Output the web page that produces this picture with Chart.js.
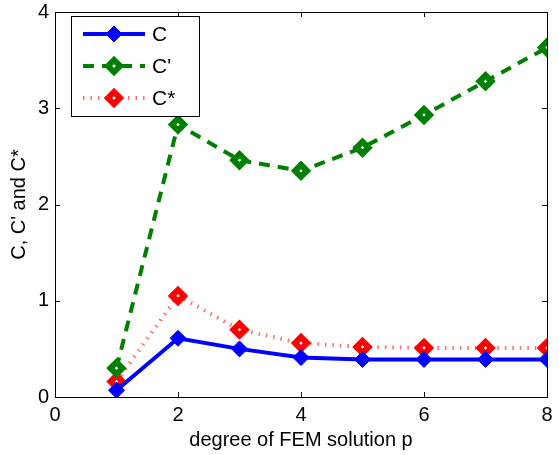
<!DOCTYPE html>
<html>
<head>
<meta charset="utf-8">
<script src="https://cdn.jsdelivr.net/npm/chart.js@4/dist/chart.umd.min.js"></script>
<style>
  html, body { margin: 0; padding: 0; background: #fff; }
  #wrap { width: 559px; height: 455px; }
</style>
</head>
<body>
<div id="wrap"><canvas id="myChart" width="559" height="455"></canvas></div>
<script>
// polynomial degree p and the three constants
var degrees = [1, 2, 3, 4, 5, 6, 7, 8];
var cVals     = [0.07, 0.61, 0.50, 0.41, 0.39, 0.39, 0.39, 0.39];
var cPrime    = [0.30, 2.83, 2.46, 2.35, 2.59, 2.93, 3.28, 3.63];
var cStar     = [0.16, 1.05, 0.70, 0.56, 0.52, 0.51, 0.51, 0.51];
var seriesNames = ['C', "C'", 'C*'];
var xTicks = [0, 2, 4, 6, 8];
var yTicks = [0, 1, 2, 3, 4];

var FONT = 'Liberation Sans, Arial, sans-serif';

function pts(vals) {
  return degrees.map(function (d, i) { return { x: d, y: vals[i] }; });
}

function marker(ctx, ds, x, y) {
  ctx.save();
  ctx.fillStyle = ds.pointBackgroundColor;
  ctx.strokeStyle = ds.pointBorderColor;
  ctx.lineWidth = ds.pointBorderWidth;
  Chart.helpers.drawPoint(ctx, {
    pointStyle: 'rectRot',
    radius: ds.pointRadius,
    borderWidth: ds.pointBorderWidth
  }, x, y);
  ctx.restore();
}

// box around the axes, inward ticks, and a matlab-style legend
var axesBox = {
  id: 'axesBox',
  afterDatasetsDraw: function (chart) {
    var ctx = chart.ctx, a = chart.chartArea;
    var sx = chart.scales.x, sy = chart.scales.y;
    ctx.save();
    ctx.strokeStyle = '#000';
    ctx.lineWidth = 1;
    ctx.beginPath();
    xTicks.forEach(function (v) {
      var px = Math.round(sx.getPixelForValue(v)) + 0.5;
      ctx.moveTo(px, a.bottom); ctx.lineTo(px, a.bottom - 5);
      ctx.moveTo(px, a.top); ctx.lineTo(px, a.top + 5);
    });
    yTicks.forEach(function (v) {
      var py = Math.round(sy.getPixelForValue(v)) + 0.5;
      ctx.moveTo(a.left, py); ctx.lineTo(a.left + 5, py);
      ctx.moveTo(a.right, py); ctx.lineTo(a.right - 5, py);
    });
    ctx.stroke();
    ctx.strokeRect(Math.round(a.left) + 0.5, Math.round(a.top) + 0.5,
      Math.round(a.right - a.left), Math.round(a.bottom - a.top));

    // legend
    var lx = 71, ly = 16, lw = 128, lh = 100;
    ctx.fillStyle = '#fff';
    ctx.fillRect(lx, ly, lw, lh);
    ctx.strokeRect(lx + 0.5, ly + 0.5, lw, lh);
    var rows = [34, 66, 98];
    chart.data.datasets.forEach(function (ds, i) {
      var y = rows[i];
      ctx.save();
      ctx.strokeStyle = ds.borderColor;
      ctx.lineWidth = ds.borderWidth;
      ctx.setLineDash(ds.borderDash || []);
      ctx.beginPath();
      ctx.moveTo(83, y); ctx.lineTo(145, y);
      ctx.stroke();
      ctx.restore();
      marker(ctx, ds, 114, y);
      ctx.fillStyle = '#000';
      ctx.font = '21px ' + FONT;
      ctx.textBaseline = 'middle';
      ctx.textAlign = 'left';
      ctx.fillText(ds.label, 152, y + 1);
    });
    ctx.restore();
  }
};

var ctx = document.getElementById('myChart').getContext('2d');

var chart = new Chart(ctx, {
  type: 'line',
  data: {
    datasets: [{
      label: seriesNames[0],
      data: pts(cVals),
      borderColor: '#0000ff',
      borderWidth: 4,
      pointStyle: 'rectRot',
      pointRadius: 8,
      pointBackgroundColor: '#0000ff',
      pointBorderColor: '#0000ff',
      pointBorderWidth: 1
    }, {
      label: seriesNames[1],
      data: pts(cPrime),
      borderColor: '#008000',
      borderWidth: 4,
      borderDash: [11, 8],
      pointStyle: 'rectRot',
      pointRadius: 6,
      pointBackgroundColor: '#ffffff',
      pointBorderColor: '#008000',
      pointBorderWidth: 6
    }, {
      label: seriesNames[2],
      data: pts(cStar),
      borderColor: 'rgba(255,60,60,0.75)',
      borderWidth: 4,
      borderDash: [1.5, 6],
      pointStyle: 'rectRot',
      pointRadius: 6,
      pointBackgroundColor: '#ffffff',
      pointBorderColor: '#ff0000',
      pointBorderWidth: 6
    }]
  },
  options: {
    responsive: false,
    animation: false,
    layout: { padding: { top: 11, right: 8, left: 0, bottom: 0 } },
    plugins: { legend: { display: false }, tooltip: { enabled: false } },
    elements: { line: { tension: 0 } },
    scales: {
      x: {
        type: 'linear',
        min: 0, max: 8,
        afterBuildTicks: function (s) { s.ticks = xTicks.map(function (v) { return { value: v }; }); },
        afterFit: function (s) { s.height = 58; s.paddingLeft = 0; s.paddingRight = 0; },
        grid: { display: false, drawTicks: false },
        border: { display: false },
        ticks: { color: '#000', font: { family: FONT, size: 20 }, padding: 6, maxRotation: 0 },
        title: { display: true, text: 'degree of FEM solution p', color: '#000',
          font: { family: FONT, size: 20 }, padding: { top: 0, bottom: 3 } }
      },
      y: {
        min: 0, max: 4,
        afterBuildTicks: function (s) { s.ticks = yTicks.map(function (v) { return { value: v }; }); },
        afterFit: function (s) { s.width = 55; s.paddingTop = 0; s.paddingBottom = 0; },
        grid: { display: false, drawTicks: false },
        border: { display: false },
        ticks: { color: '#000', font: { family: FONT, size: 20 }, padding: 6 },
        title: { display: true, text: "C, C' and C*", color: '#000',
          font: { family: FONT, size: 20 }, padding: { top: 7, bottom: 0 } }
      }
    }
  },
  plugins: [axesBox]
});
</script>
</body>
</html>
